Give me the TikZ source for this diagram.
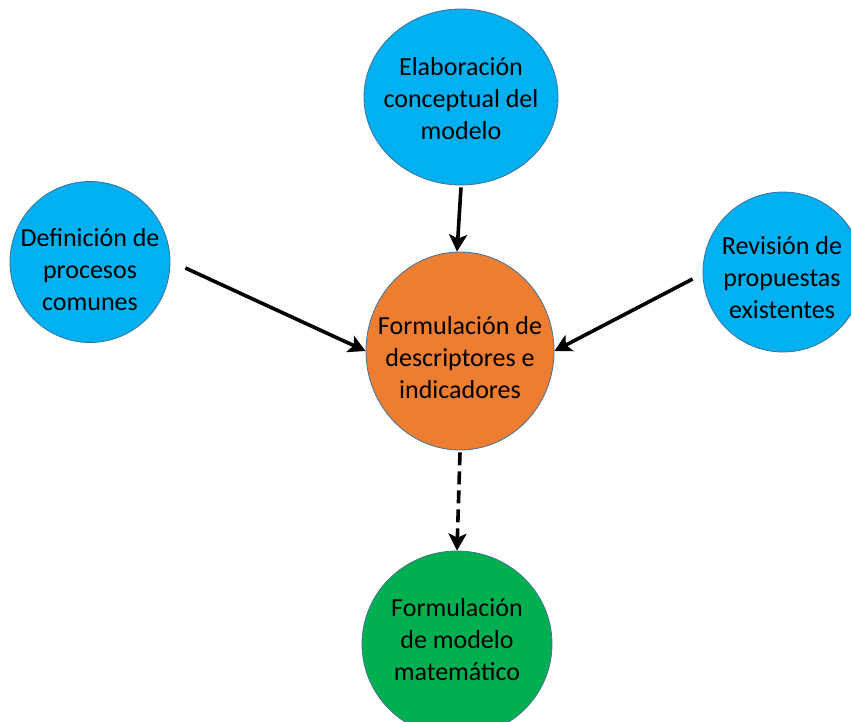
\documentclass[tikz,border=0pt]{standalone}
\usepackage{fontspec}
\setmainfont{Carlito}
\usepackage{tikz}
\usetikzlibrary{arrows.meta,positioning,shapes.geometric}

\definecolor{cyanfill}{HTML}{00B0F0}
\definecolor{orangefill}{HTML}{ED7D31}
\definecolor{greenfill}{HTML}{00B050}
\definecolor{rimblue}{HTML}{41719C}

\begin{document}
\begin{tikzpicture}[
    x=1pt, y=-1pt,
    bubble/.style={ellipse, draw=rimblue, line width=0.8pt, inner sep=0pt},
    txt/.style={align=center, inner sep=0pt, font=\fontsize{26}{32}\selectfont},
    arr/.style={-{Stealth[length=17pt, width=18pt, inset=4pt]}, line width=3.6pt}
  ]
    \useasboundingbox (0,0) rectangle (851,721);

    \node[bubble, fill=cyanfill, minimum width=194pt, minimum height=176pt,
      label={[txt, yshift=-2pt]center:Elaboración\\conceptual del\\modelo}] (elab) at (461,97) {};
    \node[bubble, fill=cyanfill, minimum width=160pt, minimum height=161pt,
      label={[txt, xshift=0pt, yshift=-8pt]center:Definición de\\procesos\\comunes}] (defin) at (90,262) {};
    \node[bubble, fill=cyanfill, minimum width=160pt, minimum height=160pt,
      label={[txt, xshift=-1pt, yshift=-6pt]center:Revisión de\\propuestas\\existentes}] (revis) at (783,272) {};
    \node[bubble, fill=orangefill, minimum width=188pt, minimum height=198pt,
      label={[txt, yshift=-7pt]center:Formulación de\\descriptores e\\indicadores}] (formdesc) at (460,351) {};
    \node[bubble, fill=greenfill, minimum width=190pt, minimum height=186pt,
      label={[txt, yshift=4pt]center:Formulación\\de modelo\\matemático}] (formmod) at (457,644) {};

    \draw[arr] ([yshift=-2pt]elab.south) -- ([xshift=-3pt]formdesc.north);
    \draw[arr] ([xshift=15pt,yshift=-6pt]defin.east) -- (formdesc.west);
    \draw[arr] ([xshift=-10pt,yshift=-7pt]revis.west) -- (formdesc.east);
    \draw[arr, dash pattern=on 13pt off 6pt] ([yshift=-2pt]formdesc.south) -- (formmod.north);
  \end{tikzpicture}
\end{document}
